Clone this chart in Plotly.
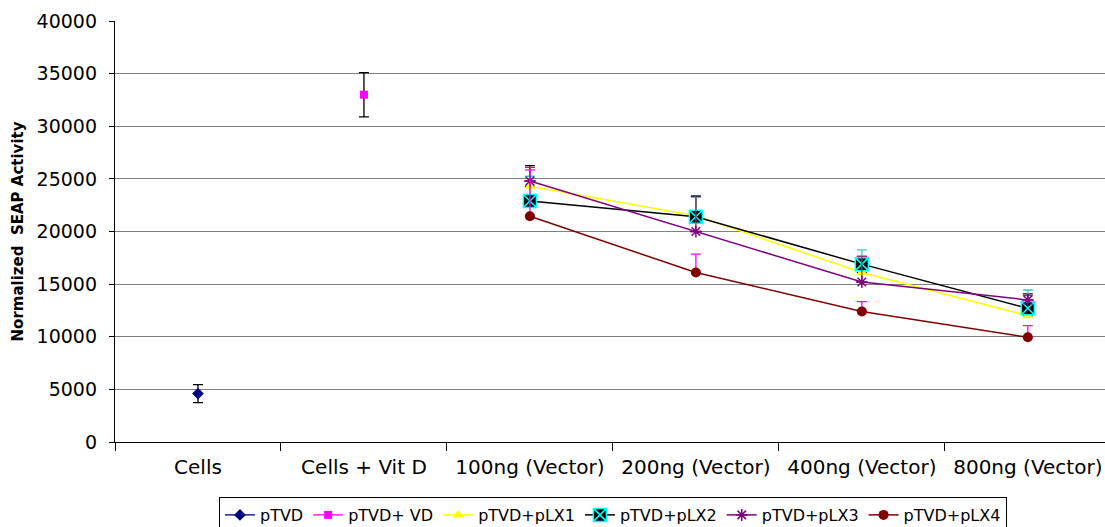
import plotly.graph_objects as go

categories = ["Cells", "Cells + Vit D", "100ng (Vector)", "200ng (Vector)", "400ng (Vector)", "800ng (Vector)"]
vector_cats = categories[2:]

ptvd_val = [4600]
ptvd_err = [850]
ptvd_vd_val = [33000]
ptvd_vd_err = [2100]

plx1_val = [24300, 21500, 16100, 12000]
plx1_err = [1950, 1800, 1500, 2080]
plx2_val = [22900, 21400, 16900, 12700]
plx2_err = [2350, 1850, 1350, 1740]
plx3_val = [24800, 20000, 15200, 13500]
plx3_err = [1300, 3400, 2450, 400]
plx4_val = [21450, 16100, 12400, 9950]
plx4_err = [4400, 1750, 930, 1100]

ytick_vals = [0, 5000, 10000, 15000, 20000, 25000, 30000, 35000, 40000]

FONT = "DejaVu Sans, Liberation Sans, Arial, sans-serif"

fig = go.Figure()

def plus_err(arr, color):
    return dict(type="data", symmetric=False, array=arr, arrayminus=[0] * len(arr),
                color=color, thickness=1.3, width=5)

fig.add_trace(go.Scatter(
    x=[categories[0]], y=ptvd_val, name="pTVD", mode="lines+markers",
    line=dict(color="#000080", width=1.3),
    marker=dict(symbol="diamond", size=9, color="#000080"),
    error_y=dict(type="data", array=ptvd_err, color="black", thickness=1.3, width=5)))

fig.add_trace(go.Scatter(
    x=[categories[1]], y=ptvd_vd_val, name="pTVD+ VD", mode="lines+markers",
    line=dict(color="#FF00FF", width=1.3),
    marker=dict(symbol="square", size=8, color="#FF00FF"),
    error_y=dict(type="data", array=ptvd_vd_err, color="black", thickness=1.3, width=5)))

fig.add_trace(go.Scatter(
    x=vector_cats, y=plx1_val, name="pTVD+pLX1", mode="lines+markers",
    line=dict(color="#FFFF00", width=1.5),
    marker=dict(symbol="triangle-up", size=10, color="#FFFF00"),
    error_y=plus_err(plx1_err, "black")))

fig.add_trace(go.Scatter(
    x=vector_cats, y=plx2_val, name="pTVD+pLX2", mode="lines+markers",
    line=dict(color="black", width=1.5),
    marker=dict(symbol="square-x", size=13, color="black",
                line=dict(color="#00FFFF", width=1.5)),
    error_y=plus_err(plx2_err, "#33CCCC")))

fig.add_trace(go.Scatter(
    x=vector_cats, y=plx3_val, name="pTVD+pLX3", mode="lines+markers",
    line=dict(color="#800080", width=1.5),
    marker=dict(symbol="asterisk-open", size=10, color="#800080",
                line=dict(color="#800080", width=1.5)),
    error_y=plus_err(plx3_err, "#993366")))

fig.add_trace(go.Scatter(
    x=vector_cats, y=plx4_val, name="pTVD+pLX4", mode="lines+markers",
    line=dict(color="#800000", width=1.5),
    marker=dict(symbol="circle", size=10, color="#800000"),
    error_y=plus_err(plx4_err, "#FF00FF")))

fig.update_layout(
    width=1105, height=527,
    margin=dict(l=115, r=0, t=21, b=85, autoexpand=False),
    paper_bgcolor="white", plot_bgcolor="white",
    font=dict(family=FONT, color="black"),
    showlegend=True,
    legend=dict(orientation="h", x=0.503, xanchor="center", y=-0.1306, yanchor="top",
                bordercolor="black", borderwidth=1, font=dict(size=16),
                itemwidth=30, tracegroupgap=0),
)

fig.update_xaxes(
    type="category", categoryorder="array", categoryarray=categories,
    range=[-0.5, 5.465],
    showline=True, linecolor="black", linewidth=1.3,
    ticks="outside", tickson="boundaries", ticklen=8, tickcolor="black",
    tickfont=dict(size=20), ticklabelstandoff=7, showgrid=False, zeroline=False,
)

fig.update_yaxes(
    range=[0, 40000], tickvals=ytick_vals, ticktext=[str(v) for v in ytick_vals],
    showline=True, linecolor="black", linewidth=1.3,
    ticks="outside", ticklen=5, tickcolor="black",
    tickfont=dict(size=19), ticklabelstandoff=8,
    showgrid=True, gridcolor="#808080", gridwidth=1.3, zeroline=False,
    title=dict(text="<b>Normalized  SEAP Activity</b>", font=dict(size=15), standoff=9),
)

fig.write_html("out.html")
